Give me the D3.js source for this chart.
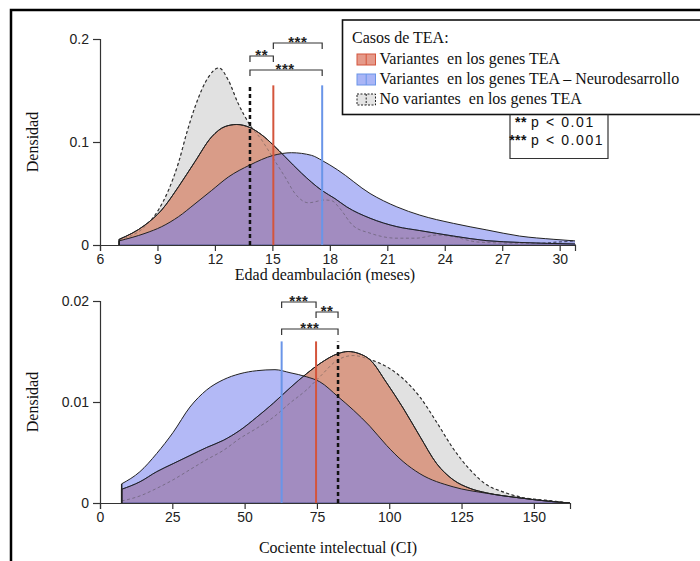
<!DOCTYPE html>
<html>
<head>
<meta charset="utf-8">
<script src="https://cdn.jsdelivr.net/npm/d3@7/dist/d3.min.js"></script>
<style>
  body { margin: 0; background: #fff; }
  svg text { white-space: pre; }
  .tick text { font-family: "Liberation Sans", Arial, sans-serif; font-size: 14px; fill: #222; }
  .serif { font-family: "Liberation Serif", "Times New Roman", serif; fill: #111; }
</style>
</head>
<body>
<script>
// ---- data ----
// panel 1: edad de deambulación (meses)
var walkTicks = [6, 9, 12, 15, 18, 21, 24, 27, 30];
var walkNoVar = [[7,0.005],[8.35,0.018],[9.05,0.034],[9.57,0.053],[10.1,0.080],[10.53,0.109],[10.96,0.134],[11.66,0.163],[12.2,0.172],[12.7,0.160],[13.2,0.138],[13.83,0.1165],[14.44,0.102],[15.05,0.084],[15.66,0.066],[16.18,0.050],[16.88,0.041],[17.75,0.0437],[18.1,0.043],[18.5,0.036],[19.2,0.019],[20.1,0.0115],[21.5,0.0066],[22.5,0.0066],[23.6,0.0097],[24.45,0.008],[25.67,0.003],[27.05,0.0019],[28.8,0.0016],[30,0.003],[30.8,0.004]];
var walkTEA = [[7,0.0055],[8.35,0.0194],[9.22,0.034],[10.1,0.0566],[10.96,0.081],[11.83,0.105],[12.53,0.115],[13.14,0.117],[13.83,0.114],[14.44,0.107],[15.05,0.097],[15.66,0.0857],[16.53,0.0696],[17.58,0.053],[18.27,0.045],[18.88,0.037],[20.1,0.026],[21.5,0.0178],[22.7,0.014],[24.45,0.0087],[26.2,0.0042],[27.9,0.0025],[30.8,0.001]];
var walkNeuro = [[7,0.004],[8.35,0.0113],[9.22,0.0178],[10.1,0.0275],[10.96,0.040],[11.83,0.053],[12.7,0.066],[13.83,0.0777],[15.05,0.087],[16.0,0.0896],[17.05,0.087],[17.6,0.082],[18.4,0.073],[20.1,0.050],[21.5,0.037],[22.7,0.029],[24.45,0.021],[26.2,0.0146],[27.9,0.0087],[29.7,0.0055],[30.8,0.004]];
var walkMeans = { noVar: 13.83, tea: 15.05, neuro: 17.6 };

// panel 2: cociente intelectual
var iqTicks = [0, 25, 50, 75, 100, 125, 150];
var iqNoVar = [[7.5,0.0002],[13.8,0.0007],[19.6,0.00145],[25.3,0.0023],[31.1,0.0033],[36.9,0.0043],[42.6,0.0052],[48.4,0.0064],[54.2,0.0074],[60,0.0085],[65.7,0.0099],[71.4,0.0112],[76,0.0125],[82.4,0.0142],[87.6,0.0146],[93.3,0.0142],[99.1,0.0135],[104.8,0.0123],[110.6,0.0105],[116.4,0.0080],[122.1,0.0054],[127.9,0.0033],[133.7,0.0018],[139.4,0.0011],[145.2,0.0006],[156.7,0.0002],[162.5,0]];
var iqTEA = [[7.5,0.00136],[13.8,0.0021],[19.6,0.0031],[25.3,0.0039],[31.1,0.0047],[36.9,0.0055],[42.6,0.0062],[48.4,0.0072],[54.2,0.0085],[60,0.0099],[65.7,0.0114],[71.4,0.0128],[76,0.0138],[82.4,0.0148],[85.8,0.0150],[89.5,0.0148],[93.3,0.0142],[99.1,0.0119],[104.8,0.0094],[110.6,0.0066],[116.4,0.0039],[122.1,0.0023],[127.9,0.00145],[133.7,0.001],[145.2,0.0005],[156.7,0.00013],[162.5,0]];
var iqNeuro = [[7.5,0.0019],[13.8,0.0031],[19.6,0.0049],[25.3,0.0070],[31.1,0.0095],[36.9,0.0112],[42.6,0.0122],[48.4,0.0128],[54.2,0.0131],[60.5,0.0132],[65.7,0.0129],[71.4,0.0125],[76,0.0120],[82.4,0.0105],[87.6,0.0092],[93.3,0.0076],[99.1,0.0057],[104.8,0.0041],[110.6,0.0029],[122.1,0.0016],[133.7,0.00096],[145.2,0.0005],[156.7,0.00013],[162.5,0]];
var iqMeans = { noVar: 82.3, tea: 74.7, neuro: 62.8 };

var legendTitle = "Casos de TEA:";
var legendLabels = ["Variantes  en los genes TEA", "Variantes  en los genes TEA – Neurodesarrollo", "No variantes  en los genes TEA"];
var pLabels = [["**", "p < 0.01"], ["***", "p < 0.001"]];

var W = 700, H = 561;
var svg = d3.select("body").append("svg").attr("width", W).attr("height", H);

var redFill = "#d99c88", blueFill = "rgb(117,128,239)", grayFill = "#e1e1e1";
var redLine = "#d4553c", blueLine = "#6a95e8";

// outer frame (cut by the image edges)
svg.append("rect").attr("x", 11).attr("y", 10).attr("width", 760).attr("height", 600)
  .attr("fill", "none").attr("stroke", "#000").attr("stroke-width", 2.5);

function panel(o) {
  var x = d3.scaleLinear().domain(o.xDomain).range([100, o.xEnd]);
  var y = d3.scaleLinear().domain([0, o.yMax]).range([o.y0, o.yTop]);
  var g = svg.append("g");
  var area = d3.area().x(d => x(d[0])).y0(y(0)).y1(d => y(d[1])).curve(d3.curveMonotoneX);
  var line = d3.line().x(d => x(d[0])).y(d => y(d[1])).curve(d3.curveMonotoneX);

  g.append("path").attr("d", area(o.noVar)).attr("fill", grayFill);
  g.append("path").attr("d", line(o.noVar)).attr("fill", "none").attr("stroke", "#222")
    .attr("stroke-width", 1.1).attr("stroke-dasharray", "3,2.5");
  g.append("path").attr("d", area(o.tea)).attr("fill", redFill)
    .attr("stroke", "#222").attr("stroke-width", 1);
  g.append("path").attr("d", area(o.neuro)).attr("fill", blueFill).attr("fill-opacity", 0.55);
  // dashed outline seen through the fills
  g.append("path").attr("d", line(o.noVar)).attr("fill", "none").attr("stroke", "#444")
    .attr("stroke-opacity", 0.45).attr("stroke-width", 1).attr("stroke-dasharray", "3,2.5");
  g.append("path").attr("d", line(o.tea)).attr("fill", "none").attr("stroke", "#222").attr("stroke-width", 1);
  g.append("path").attr("d", line(o.neuro)).attr("fill", "none").attr("stroke", "#222").attr("stroke-width", 1);
  // left edges of the areas
  [o.tea, o.neuro].forEach(function (s) {
    g.append("line").attr("x1", x(s[0][0])).attr("x2", x(s[0][0]))
      .attr("y1", y(0)).attr("y2", y(s[0][1])).attr("stroke", "#222").attr("stroke-width", 1.5);
  });

  // means
  var top = y(o.meanH);
  g.append("line").attr("x1", x(o.means.tea)).attr("x2", x(o.means.tea)).attr("y1", y(0)).attr("y2", top)
    .attr("stroke", redLine).attr("stroke-width", 2);
  g.append("line").attr("x1", x(o.means.neuro)).attr("x2", x(o.means.neuro)).attr("y1", y(0)).attr("y2", top)
    .attr("stroke", blueLine).attr("stroke-width", 2);
  g.append("line").attr("x1", x(o.means.noVar)).attr("x2", x(o.means.noVar)).attr("y1", y(0)).attr("y2", top)
    .attr("stroke", "#111").attr("stroke-width", 2.5).attr("stroke-dasharray", "4,3");

  // significance brackets
  o.brackets.forEach(function (b) {
    var x1 = x(o.means[b.a]), x2 = x(o.means[b.b]);
    var by = b.y;
    g.append("path").attr("d", "M" + x1 + "," + (by + 6) + "V" + by + "H" + x2 + "V" + (by + 6))
      .attr("fill", "none").attr("stroke", "#333").attr("stroke-width", 1.2);
    g.append("text").attr("x", (x1 + x2) / 2 + (b.dx || 0)).attr("y", by + 4)
      .attr("text-anchor", "middle").style("font-family", "Liberation Sans, Arial, sans-serif")
      .style("font-size", "15px").style("font-weight", "bold").style("letter-spacing", "0.5px")
      .attr("fill", "#222").text(b.label);
  });

  // axes
  var xa = g.append("g").attr("transform", "translate(0," + y(0) + ")")
    .call(d3.axisBottom(x).tickValues(o.xTicks).tickSizeOuter(0).tickSize(6).tickPadding(3));
  var ya = g.append("g").attr("transform", "translate(100,0)")
    .call(d3.axisLeft(y).tickValues([0, o.yMax / 2, o.yMax]).tickFormat(d3.format("~g")).tickSizeOuter(0).tickSize(7).tickPadding(4));
  [xa, ya].forEach(function (a) {
    a.selectAll("path,line").attr("stroke", "#333").attr("stroke-width", 1.2);
  });

  g.append("text").attr("class", "serif").attr("x", o.xLabelX).attr("y", o.xLabelY)
    .attr("text-anchor", "middle").style("font-size", "16px").text(o.xLabel);
  g.append("text").attr("class", "serif").attr("transform", "translate(38," + (o.y0 + o.yTop) / 2 + ") rotate(-90)")
    .attr("text-anchor", "middle").style("font-size", "16px").text("Densidad");
}

panel({
  xDomain: [6, 30.8], xEnd: 575, yMax: 0.2, y0: 245, yTop: 39, xTicks: walkTicks,
  noVar: walkNoVar, tea: walkTEA, neuro: walkNeuro, means: walkMeans, meanH: 0.155,
  brackets: [
    { a: "tea", b: "neuro", label: "***", y: 43 },
    { a: "noVar", b: "tea", label: "**", y: 56 },
    { a: "noVar", b: "neuro", label: "***", y: 70, dx: -1 }
  ],
  xLabel: "Edad deambulación (meses)", xLabelX: 325, xLabelY: 280
});

panel({
  xDomain: [0, 162.5], xEnd: 570, yMax: 0.02, y0: 503, yTop: 301, xTicks: iqTicks,
  noVar: iqNoVar, tea: iqTEA, neuro: iqNeuro, means: iqMeans, meanH: 0.016,
  brackets: [
    { a: "neuro", b: "tea", label: "***", y: 302 },
    { a: "tea", b: "noVar", label: "**", y: 312 },
    { a: "neuro", b: "noVar", label: "***", y: 329 }
  ],
  xLabel: "Cociente intelectual (CI)", xLabelX: 338, xLabelY: 553
});

// legend
var lg = svg.append("g");
lg.append("rect").attr("x", 342.5).attr("y", 20).attr("width", 420).attr("height", 94.5)
  .attr("fill", "#fff").attr("stroke", "#111").attr("stroke-width", 1.6);
lg.append("text").attr("class", "serif").attr("x", 352).attr("y", 43).style("font-size", "16px").text(legendTitle);
var sw = [
  { fill: "#e59a8a", stroke: redLine, dash: null },
  { fill: "#a9b5f6", stroke: blueLine, dash: null },
  { fill: "#e4e4e4", stroke: "#222", dash: "2,1.5" }
];
legendLabels.forEach(function (t, i) {
  var yy = 63.5 + i * 20;
  lg.append("rect").attr("x", 357).attr("y", yy - 9.5).attr("width", 18.5).attr("height", 11)
    .attr("fill", sw[i].fill).attr("stroke", sw[i].stroke).attr("stroke-width", 1)
    .attr("stroke-dasharray", sw[i].dash);
  lg.append("line").attr("x1", 366.2).attr("x2", 366.2).attr("y1", yy - 9.5).attr("y2", yy + 1.5)
    .attr("stroke", sw[i].stroke).attr("stroke-width", 1).attr("stroke-dasharray", sw[i].dash);
  lg.append("text").attr("class", "serif").attr("x", 379.5).attr("y", yy).style("font-size", "16px").text(t);
});

// p-value box
var pb = svg.append("g");
pb.append("path").attr("d", "M510,114.5V158.5H608V114.5").attr("fill", "none").attr("stroke", "#333").attr("stroke-width", 1.2);
pLabels.forEach(function (p, i) {
  var by = 127 + i * 18;
  pb.append("text").attr("x", 527).attr("y", by).attr("text-anchor", "end")
    .style("font-family", "Liberation Sans, Arial, sans-serif").style("font-size", "14px")
    .style("font-weight", "bold").style("letter-spacing", "0.5px").attr("fill", "#111").text(p[0]);
  pb.append("text").attr("x", 531).attr("y", by)
    .style("font-family", "Liberation Sans, Arial, sans-serif").style("font-size", "14px")
    .style("letter-spacing", "1.6px").attr("fill", "#111").text(p[1]);
});
</script>
</body>
</html>
